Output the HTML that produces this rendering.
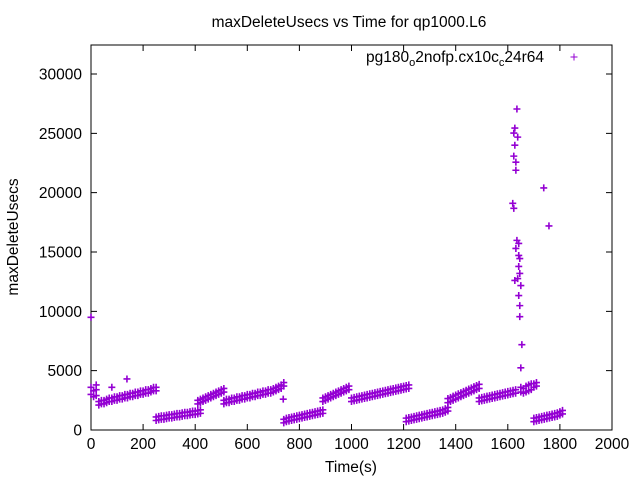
<!DOCTYPE html>
<html><head><meta charset="utf-8">
<style>
body{margin:0;background:#fff;}
svg text{font-family:"Liberation Sans",sans-serif;fill:#000;}
</style></head>
<body>
<svg id="chart" width="640" height="480" viewBox="0 0 640 480" xmlns="http://www.w3.org/2000/svg">
<rect x="0" y="0" width="640" height="480" fill="#fff"/>
<text x="349" y="27" font-size="15.5" text-anchor="middle">maxDeleteUsecs vs Time for qp1000.L6</text>
<text x="18" y="237" font-size="15.5" text-anchor="middle" transform="rotate(-90 18 237)">maxDeleteUsecs</text>
<text x="351" y="472" font-size="15.5" text-anchor="middle">Time(s)</text>
<g id="axes"></g>
<g id="marks"></g>
<g>
<text x="544" y="62" font-size="15.5" text-anchor="end">pg180<tspan font-size="11" dy="4">o</tspan><tspan dy="-4">2nofp.cx10c</tspan><tspan font-size="11" dy="4">c</tspan><tspan dy="-4">24r64</tspan></text>
<path d="M570.5 57h7M574 53.5v7" stroke="#9400d3" stroke-width="1"/>
</g>
</svg>
<script>
const xTicks=[0,200,400,600,800,1000,1200,1400,1600,1800,2000];
const yTicks=[0,5000,10000,15000,20000,25000,30000];
const times=[0,10,20,
30,40,50,60,70,80,90,100,110,120,130,140,150,160,170,180,190,200,210,220,230,240,250,
250,260,270,280,290,300,310,320,330,340,350,360,370,380,390,400,410,420,
410,420,430,440,450,460,470,480,490,500,510,
510,520,530,540,550,560,570,580,590,600,610,620,630,640,650,660,670,680,690,700,710,720,730,740,
740,750,760,770,780,790,800,810,820,830,840,850,860,870,880,890,
890,900,910,920,930,940,950,960,970,980,990,
1000,1010,1020,1030,1040,1050,1060,1070,1080,1090,1100,1110,1120,1130,1140,1150,1160,1170,1180,1190,1200,1210,1220,
1210,1220,1230,1240,1250,1260,1270,1280,1290,1300,1310,1320,1330,1340,1350,1360,1370,
1370,1380,1390,1400,1410,1420,1430,1440,1450,1460,1470,1480,1490,
1490,1500,1510,1520,1530,1540,1550,1560,1570,1580,1590,1600,1610,1620,1630,
1650,1660,1670,1680,1690,1700,1710,
1700,1710,1720,1730,1740,1750,1760,1770,1780,1790,1800,1810];
const values=[3000,3300,2900,
2100,2200,2200,2300,2400,2400,2500,2500,2600,2600,2700,2700,2800,2800,2900,2900,3000,3000,3100,3100,3200,3300,3300,
800,850,900,900,950,1000,1000,1050,1100,1100,1150,1200,1200,1250,1300,1300,1350,1400,
2200,2300,2400,2500,2600,2700,2800,2900,3000,3100,3200,
2200,2300,2300,2400,2400,2500,2500,2600,2600,2700,2700,2800,2800,2900,2900,3000,3000,3100,3100,3200,3300,3400,3500,3700,
600,700,750,800,850,900,950,1000,1050,1100,1150,1200,1250,1300,1350,1400,
2400,2500,2600,2700,2800,2900,3000,3100,3200,3300,3400,
2400,2450,2500,2550,2600,2650,2700,2750,2800,2850,2900,2950,3000,3050,3100,3150,3200,3250,3300,3350,3400,3450,3500,
700,750,800,850,900,950,1000,1050,1100,1150,1200,1250,1300,1350,1400,1500,1600,
2300,2400,2500,2600,2700,2800,2900,3000,3100,3200,3300,3400,3500,
2400,2450,2500,2550,2600,2650,2700,2750,2800,2850,2900,2950,3000,3050,3100,
3200,3100,3200,3300,3400,3600,3700,
700,750,800,850,900,950,1000,1050,1100,1150,1250,1350];
const values2=[3600,2800,3400,
2400,2500,2500,2600,2700,2700,2800,2800,2900,2900,3000,3000,3100,3100,3200,3200,3300,3300,3400,3400,3500,3600,3600,
1100,1150,1200,1200,1250,1300,1300,1350,1400,1400,1450,1500,1500,1550,1600,1600,1650,1700,
2500,2600,2700,2800,2900,3000,3100,3200,3300,3400,3500,
2500,2600,2600,2700,2700,2800,2800,2900,2900,3000,3000,3100,3100,3200,3200,3300,3300,3400,3400,3500,3600,3700,3800,4000,
900,1000,1050,1100,1150,1200,1250,1300,1350,1400,1450,1500,1550,1600,1650,1700,
2700,2800,2900,3000,3100,3200,3300,3400,3500,3600,3700,
2700,2750,2800,2850,2900,2950,3000,3050,3100,3150,3200,3250,3300,3350,3400,3450,3500,3550,3600,3650,3700,3750,3800,
1000,1050,1100,1150,1200,1250,1300,1350,1400,1450,1500,1550,1600,1650,1700,1800,1900,
2650,2750,2850,2950,3050,3150,3250,3350,3450,3550,3650,3750,3850,
2700,2750,2800,2850,2900,2950,3000,3050,3100,3150,3200,3250,3300,3350,3400,
3600,3500,3700,3800,3900,3900,4000,
1000,1050,1100,1150,1200,1250,1300,1350,1400,1450,1550,1650];
const outlierTimes=[0,20,80,138,738,
1635,1627,1623,1638,1627,1623,1631,1631,1619,1623,1635,1642,1631,1642,1646,1642,1646,1638,1627,1650,1642,1646,1646,1654,1650,
1738,1758];
const outlierValues=[9500,3800,3600,4300,2600,
27050,25440,25020,24680,24000,23080,22570,21890,19100,18680,15980,15720,15300,14710,14450,13780,13190,12760,12600,12170,11330,10480,9550,7190,5240,
20400,17200];
const NS='http://www.w3.org/2000/svg';
const L=91,R=612,T=45,B=430;
const xs=t=>L+t/2000*(R-L);
const ys=v=>B-v/30000*(B-74);
const axes=document.getElementById('axes');
function mk(tag,attrs,parent){const e=document.createElementNS(NS,tag);for(const k in attrs)e.setAttribute(k,attrs[k]);parent.appendChild(e);return e;}
const frame=mk('rect',{x:L,y:T,width:R-L,height:B-T,fill:'none',stroke:'#000','stroke-width':1},axes);


xTicks.forEach(t=>{const x=xs(t);
 const p=mk('path',{d:`M${x} ${B}v-6M${x} ${T}v6`,stroke:'#000','stroke-width':1},axes);
 
 
 const tx=mk('text',{x:x,y:B+19,'font-size':15.5,'text-anchor':'middle'},axes);tx.textContent=t;
 
 
});
yTicks.forEach(v=>{const y=ys(v);
 const p=mk('path',{d:`M${L} ${y}h6M${R} ${y}h-6`,stroke:'#000','stroke-width':1},axes);
 
 
 const tx=mk('text',{x:L-9,y:y+5.5,'font-size':15.5,'text-anchor':'end'},axes);tx.textContent=v;
 
 
});
const marks=document.getElementById('marks');
function cross(t,v){const x=xs(t),y=ys(v);
 const p=mk('path',{d:`M${x-3.5} ${y}h7M${x} ${y-3.5}v7`,stroke:'#9400d3','stroke-width':1.6},marks);
 
 
}
times.forEach((t,i)=>{cross(t,values[i]);cross(t,values2[i]);});
outlierTimes.forEach((t,i)=>cross(t,outlierValues[i]));
</script>
</body></html>
